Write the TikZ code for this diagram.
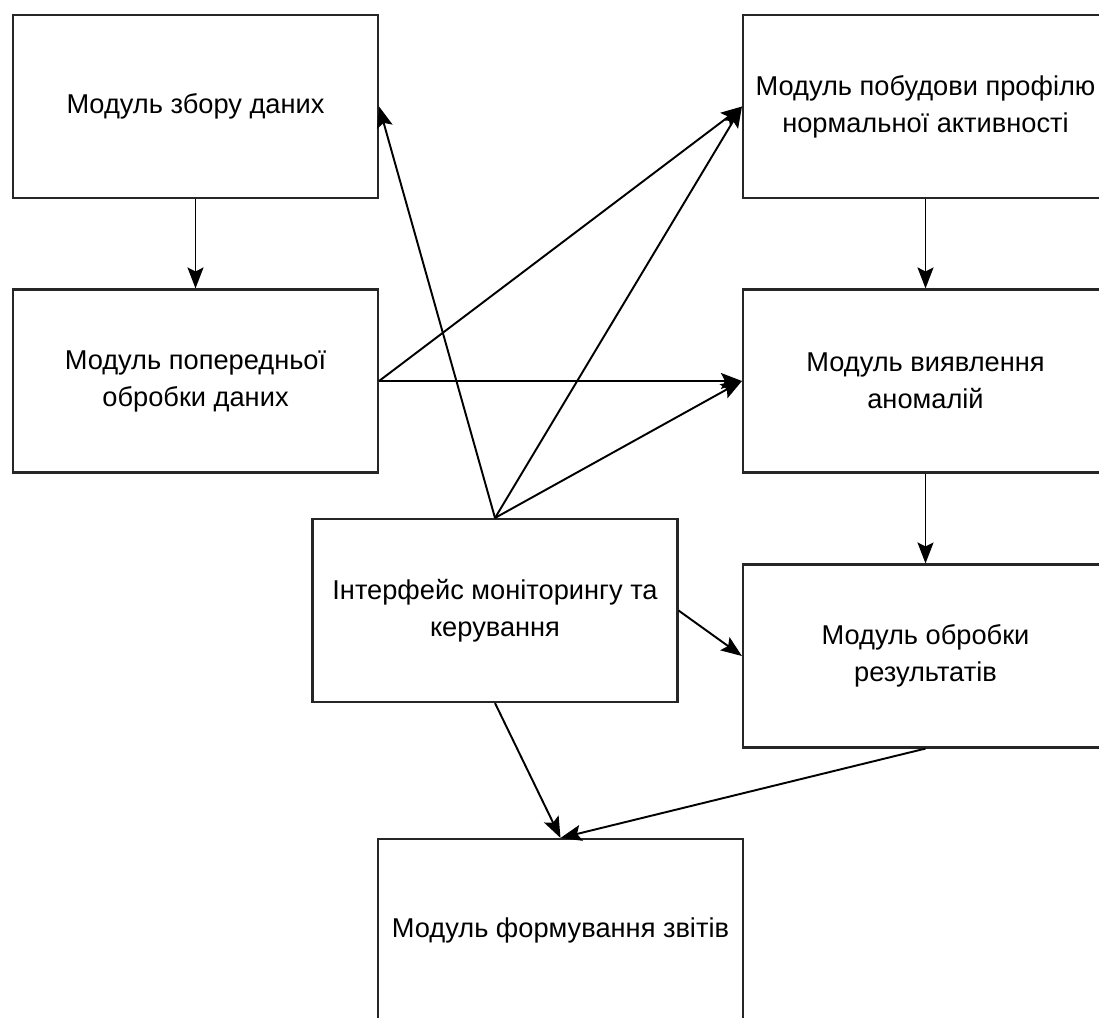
\documentclass[tikz,border=0pt]{standalone}
\usepackage{fontspec}
\setmainfont{Liberation Sans}
\usepackage{tikz}
\usetikzlibrary{positioning, arrows.meta}

\begin{document}
\begin{tikzpicture}[>={Stealth[length=0.42cm, width=0.32cm, inset=0.08cm]},
            modul/.style={rectangle, draw=black!85, line width=1.2pt, minimum width=7.3cm, minimum height=3.66cm, align=center, font=\fontsize{15.5}{21}\selectfont},
            strilka/.style={->, line width=1.1pt}
        ]
            % Межі малюнка
            \useasboundingbox (0, 0) rectangle (21.98, -20.34);

            % Збір даних
            \node[modul] (zbir) at (3.91, -2.13) {Модуль збору даних};

            % Попередня обробка
            \node[modul] (poperedn) at (3.91, -7.62) {Модуль попередньої\\обробки даних};

            % Профіль нормальної активності
            \node[modul] (profil) at (18.51, -2.13) {Модуль побудови профілю\\нормальної активності};

            % Виявлення аномалій
            \node[modul] (anomal) at (18.51, -7.62) {Модуль виявлення\\аномалій};

            % Інтерфейс
            \node[modul] (interf) at (9.9, -12.21) {Інтерфейс моніторингу та\\керування};

            % Обробка результатів
            \node[modul] (rezult) at (18.51, -13.12) {Модуль обробки\\результатів};

            % Формування звітів
            \node[modul] (zvity) at (11.21, -18.61) {Модуль формування звітів};

            % Вертикальні стрілки
            \draw[strilka] (zbir) -- (poperedn);
            \draw[strilka] (profil) -- (anomal);
            \draw[strilka] (anomal) -- (rezult);

            % Від попередньої обробки
            \draw[strilka] (poperedn.east) -- (profil.west);
            \draw[strilka] (poperedn.east) -- (anomal.west);

            % Від інтерфейсу
            \draw[strilka] (interf.north) -- (zbir.east);
            \draw[strilka] (interf.north) -- (profil.west);
            \draw[strilka] (interf.north) -- (anomal.west);
            \draw[strilka] (interf.east) -- (rezult.west);
            \draw[strilka] (interf.south) -- (zvity.north);

            % До звітів
            \draw[strilka] (rezult.south) -- (zvity.north);

        \end{tikzpicture}
\end{document}
